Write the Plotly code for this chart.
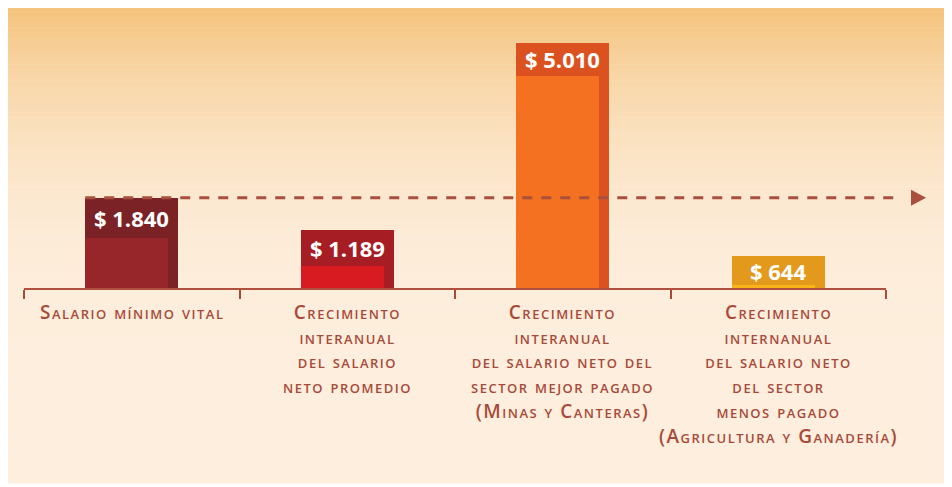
import plotly.graph_objects as go

# ---------------- data ----------------
categories = [
    "Salario mínimo vital",
    "Crecimiento<br>interanual<br>del salario<br>neto promedio",
    "Crecimiento<br>interanual<br>del salario neto del<br>sector mejor pagado<br>(Minas y Canteras)",
    "Crecimiento<br>internanual<br>del salario neto<br>del sector<br>menos pagado<br>(Agricultura y Ganadería)",
]
values = [1840, 1189, 5010, 644]
value_labels = ["$ " + f"{v:,}".replace(",", ".") for v in values]

# ---------------- styles ----------------
box_colors = ["#7b2226", "#a61d23", "#db5220", "#e39a1c"]
body_colors = ["#97262b", "#d81a21", "#f37121", "#fab419"]
label_box_px = [40, 36, 33, 29]
TEXT_COLOR = "#a84a3a"
FONT = "Open Sans"
VAL_FONT = "Open Sans"
LABEL_SIZE = 19
LABEL_TOP = 297  # reference px of the top of the first label line
TRACKING = "1.5px"

# the page body adds an 8px offset; reference pixel (X, Y) -> figure (X-8, Y-8)
OFF = 8
W, H = 952 - OFF, 487 - OFF
ML, MR, MT, MB = 24 - OFF, (952 - OFF) - (886 - OFF), 0, (487 - OFF) - (288 - OFF)
PLOT_W = W - ML - MR
PLOT_H = H - MT - MB
YMAX = PLOT_H / 0.049
CAT_PX = PLOT_W / len(categories)
BAR_W = 93 / CAT_PX
STRIP_W = 10 / CAT_PX


def xp(X):  # reference pixel x -> paper
    return (X - OFF - ML) / PLOT_W


def yp(Y):  # reference pixel y -> paper
    return (H - MB - (Y - OFF)) / PLOT_H


def xcat_to_paper(xc):
    return (xc + 0.5) / len(categories)


def yval_to_paper(v):
    return v / YMAX


fig = go.Figure()

# full bars (label-box colour)
fig.add_trace(go.Bar(
    x=categories, y=values, width=BAR_W,
    marker=dict(color=box_colors, line=dict(width=0)),
    hoverinfo="skip", showlegend=False,
))
# lighter body under the label box
body_vals = [v - px * YMAX / PLOT_H for v, px in zip(values, label_box_px)]
fig.add_trace(go.Bar(
    x=categories, y=body_vals, width=BAR_W - STRIP_W, offset=-BAR_W / 2,
    marker=dict(color=body_colors, line=dict(width=0)),
    hoverinfo="skip", showlegend=False,
))

shapes = []
# background gradient panel
top_c = (0xF4, 0xC2, 0x7A)
bot_c = (0xFD, 0xEE, 0xDD)
y0r, y1r = 6, 483
n = 90
for i in range(n):
    a = y0r + (y1r - y0r) * i / n
    b = y0r + (y1r - y0r) * (i + 1) / n
    t = min(1.0, ((a + b) / 2 - y0r) / (400 - y0r))
    e = 1 - (1 - t) ** 3
    c = tuple(round(top_c[k] + (bot_c[k] - top_c[k]) * e) for k in range(3))
    shapes.append(dict(
        type="rect", xref="paper", yref="paper", layer="below",
        x0=xp(6), x1=xp(952), y0=yp(b + 0.5), y1=yp(a),
        fillcolor="rgb(%d,%d,%d)" % c, line=dict(width=0),
    ))

# dashed reference line at the first bar's height
ref_val = values[0]
ref_y = yval_to_paper(ref_val)
shapes.append(dict(
    type="line", xref="paper", yref="paper", layer="above",
    x0=xcat_to_paper(-BAR_W / 2), x1=xp(902), y0=ref_y, y1=ref_y,
    line=dict(color="#a84f3d", width=3, dash="10px,9px"),
))
# arrow head
shapes.append(dict(
    type="path", xref="paper", yref="paper", layer="above",
    xsizemode="pixel", ysizemode="pixel",
    xanchor=xp(911), yanchor=ref_y,
    path="M 0,8 L 15,0 L 0,-8 Z",
    fillcolor="#a84f3d", line=dict(width=0),
))

annotations = []
for i, (v, lab, bp) in enumerate(zip(values, value_labels, label_box_px)):
    annotations.append(dict(
        x=i, y=v, xref="x", yref="y", text=lab, showarrow=False,
        yanchor="middle", xanchor="center", yshift=-bp / 2,
        font=dict(family=VAL_FONT, size=22, color="white", weight=700),
    ))

# category labels under the axis (small caps, tracked)
for i, cat in enumerate(categories):
    text = "<br>".join(
        '<span style="letter-spacing:%s">%s</span>' % (TRACKING, ln)
        for ln in cat.split("<br>")
    )
    annotations.append(dict(
        x=i, y=yp(LABEL_TOP), xref="x", yref="paper", text=text,
        showarrow=False, yanchor="top", xanchor="center", align="center",
        font=dict(family=FONT, size=LABEL_SIZE, color=TEXT_COLOR,
                  variant="small-caps", weight=600),
    ))

fig.update_layout(
    width=W, height=H,
    margin=dict(l=ML, r=MR, t=MT, b=MB, pad=0, autoexpand=False),
    paper_bgcolor="white", plot_bgcolor="rgba(0,0,0,0)",
    barmode="overlay", bargap=0,
    shapes=shapes, annotations=annotations,
    showlegend=False,
    xaxis=dict(
        type="category", range=[-0.5, len(categories) - 0.5],
        showgrid=False, zeroline=False, automargin=False,
        showline=True, linecolor="#b0503f", linewidth=2,
        ticks="outside", tickson="boundaries", ticklen=9,
        tickcolor="#a84a3a", tickwidth=2,
        showticklabels=False,
        fixedrange=True,
    ),
    yaxis=dict(
        range=[0, YMAX], visible=False, showgrid=False, zeroline=False,
        fixedrange=True, automargin=False,
    ),
)

fig.write_html("out.html")
